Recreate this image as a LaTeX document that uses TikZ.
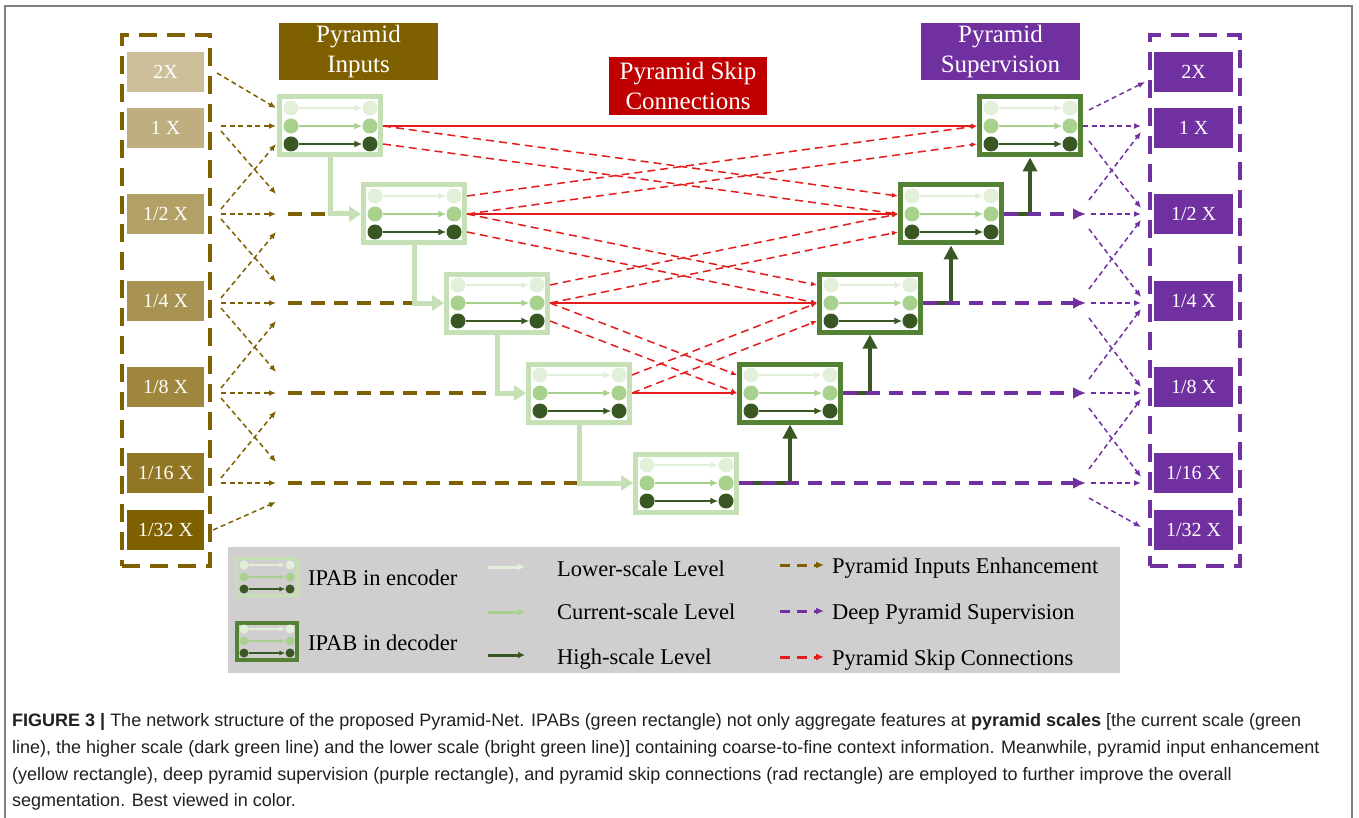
\documentclass[tikz,border=0pt]{standalone}
\usepackage{fontspec}
\setmainfont{Liberation Serif}
\newfontfamily\capfamily{Liberation Sans}
\usetikzlibrary{arrows.meta}
\definecolor{brn}{HTML}{7F6000}
\definecolor{pur}{HTML}{7030A0}
\definecolor{hred}{HTML}{C00000}
\definecolor{lred}{HTML}{E41C1C}
\definecolor{gA}{HTML}{E2F0D9}
\definecolor{gB}{HTML}{A9D18E}
\definecolor{gC}{HTML}{385723}
\definecolor{encfr}{HTML}{C5E0B4}
\definecolor{decfr}{HTML}{548235}
\definecolor{leggray}{HTML}{D0CECE}
\definecolor{framegray}{HTML}{7F7F7F}
\definecolor{captext}{HTML}{231F20}
\newcommand\lblfont{\fontsize{20}{24}\selectfont}
\newcommand\hdrfont{\fontsize{25}{30}\selectfont}
\newcommand\legfont{\fontsize{22.5}{27}\selectfont}
\newcommand\captxtfont{\capfamily\fontsize{18}{27}\selectfont}
\tikzset{
 lvlbox/.style={rectangle, inner sep=0pt, minimum width=77pt, minimum height=40pt, text=white, font=\lblfont},
 hdr/.style={rectangle, inner sep=0pt, text=white, font=\hdrfont, align=center, minimum width=159pt, minimum height=57pt},
 colframe/.style={draw=#1, line width=4pt, dash pattern=on 18pt off 10pt, minimum width=88pt, minimum height=531pt, inner sep=0pt},
 encframe/.style={draw=encfr, line width=5pt, fill=white, minimum width=101pt, minimum height=58pt, inner sep=0pt},
 decframe/.style={draw=decfr, line width=5pt, fill=white, minimum width=101pt, minimum height=58pt, inner sep=0pt},
 encmini/.style={draw=encfr, line width=3pt, minimum width=61pt, minimum height=37pt, inner sep=0pt},
 decmini/.style={draw=decfr, line width=4pt, minimum width=60pt, minimum height=37pt, inner sep=0pt},
 dot/.style={circle, inner sep=0pt, minimum size=15pt},
 minidot/.style={circle, inner sep=0pt, minimum size=9pt},
 rowar/.style={line width=1.8pt, -{Latex[length=8pt,width=7pt]}},
 miniar/.style={line width=1.6pt, -{Latex[length=6pt,width=5pt]}},
 thinbrn/.style={brn, line width=1.5pt, dash pattern=on 5pt off 3.5pt, -{Latex[length=7pt,width=6pt]}},
 thinpur/.style={pur, line width=1.5pt, dash pattern=on 5pt off 3.5pt, -{Latex[length=7pt,width=6pt]}},
 thickbrn/.style={brn, line width=4pt, dash pattern=on 14pt off 9pt},
 thickpur/.style={pur, line width=4pt, dash pattern=on 14pt off 9pt, -{Latex[length=13pt,width=12pt]}},
 redsolid/.style={lred, line width=1.2pt, -{Latex[length=6pt,width=5pt]}},
 reddash/.style={lred, line width=1.5pt, dash pattern=on 8pt off 5pt, -{Latex[length=6pt,width=5pt]}},
 encconn/.style={encfr, line width=5pt, -{Triangle[length=12pt,width=15pt]}},
 decconn/.style={gC, line width=4pt, -{Triangle[length=14pt,width=14pt]}},
 legln/.style={line width=3pt, -{Latex[length=7pt,width=7pt]}},
 legdash/.style={line width=3pt, dash pattern=on 10pt off 7pt, -{Latex[length=8pt,width=7pt]}},
 legtxt/.style={font=\legfont, anchor=base west, inner sep=0pt},
 captxt/.style={font=\captxtfont, text=captext, anchor=base west, inner sep=0pt},
}
% IPAB block: name, center, frame style
\newcommand\ipab[3]{%
 \node[#3] (#1) at (#2) {};
 \begin{scope}[shift={(#2)}]
  \foreach \r/\c in {1/gA,2/gB,3/gC}{
   \node[dot, fill=\c] (#1p\r) at (-39,{(\r-2)*18}) {};
   \node[dot, fill=\c] (#1q\r) at (40,{(\r-2)*18}) {};
   \draw[rowar,\c] (#1p\r) -- (#1q\r);
  }
 \end{scope}}
\newcommand\ipabmini[3]{%
 \node[#3] (#1) at (#2) {};
 \begin{scope}[shift={(#2)}]
  \foreach \r/\c in {1/gA,2/gB,3/gC}{
   \node[minidot, fill=\c] (#1p\r) at (-23,{(\r-2)*12}) {};
   \node[minidot, fill=\c] (#1q\r) at (23,{(\r-2)*12}) {};
   \draw[miniar,\c] (#1p\r) -- (#1q\r);
  }
 \end{scope}}
\begin{document}
\begin{tikzpicture}[x=1pt,y=-1pt]
\useasboundingbox (0,0) rectangle (1359,818);
\fill[white] (0,0) rectangle (1359,818);
% outer frame
\draw[framegray, line width=1.5pt] (5,818) -- (5,6) -- (1352,6) -- (1352,818);

% ---- left / right columns
\node[colframe=brn] (lframe) at (166,300.5) {};
\node[colframe=pur, minimum width=90pt] (rframe) at (1195,300.5) {};
\foreach \n/\y/\t/\c in {l0/72/2X/brn!40, l1/128/1 X/brn!50, l2/214/1\slash 2 X/brn!60, l3/301/1\slash 4 X/brn!68, l4/387/1\slash 8 X/brn!76, l5/473/1\slash 16 X/brn!86, l6/530/1\slash 32 X/brn}{
 \node[lvlbox, fill=\c] (\n) at (165.5,\y) {\t};
}
\foreach \n/\y/\t in {r0/72/2X, r1/128/1 X, r2/214/1\slash 2 X, r3/301/1\slash 4 X, r4/387/1\slash 8 X, r5/473/1\slash 16 X, r6/530/1\slash 32 X}{
 \node[lvlbox, fill=pur, minimum width=79pt] (\n) at (1193.5,\y) {\t};
}

% ---- headers
\node[hdr, fill=brn] (hIn) at (358.5,51.5) {Pyramid\\Inputs};
\node[hdr, fill=hred, minimum width=158pt, minimum height=58pt] (hSkip) at (688,86) {Pyramid Skip\\Connections};
\node[hdr, fill=pur] (hSup) at (1000.5,51.5) {Pyramid\\Supervision};

% ---- blocks
\ipab{E1}{330,126}{encframe}
\ipab{E2}{414,214}{encframe}
\ipab{E3}{497,303}{encframe}
\ipab{E4}{579,393}{encframe}
\ipab{E5}{686,483}{encframe}
\ipab{D1}{1030,126}{decframe}
\ipab{D2}{951,214}{decframe}
\ipab{D3}{870,303}{decframe}
\ipab{D4}{790,393}{decframe}

% ---- red skip connections
\foreach \i in {1,2,3,4}{
 \draw[redsolid] (E\i.east |- E\i q2) -- (D\i.west |- D\i p2);
}
\foreach \i/\j in {1/2,2/3,3/4}{
 \draw[reddash] (E\i.east |- E\i q2) -- (D\j.west |- D\j p1);
 \draw[reddash] (E\i.east |- E\i q3) -- (D\j.west |- D\j p2);
}
\foreach \i/\j in {2/1,3/2,4/3}{
 \draw[reddash] (E\i.east |- E\i q1) -- (D\j.west |- D\j p2);
 \draw[reddash] (E\i.east |- E\i q2) -- (D\j.west |- D\j p3);
}

% ---- left pyramid inputs
\coordinate (ls0) at (217,73);
\coordinate (le0) at (276,108);
\draw[thinbrn] (ls0) -- (le0);
\coordinate (ls6) at (213,530);
\coordinate (le6) at (276,502);
\draw[thinbrn] (ls6) -- (le6);
\foreach \k/\y in {1/126,2/214,3/303,4/393,5/483}{
 \coordinate (ls\k) at (221,\y);
 \coordinate (le\k) at (276,\y);
 \draw[thinbrn] (ls\k) -- (le\k);
}
\foreach \k/\ya/\yb in {2/209/144,3/298/232,4/388/321,5/478/411}{
 \coordinate (lua\k) at (221,\ya);
 \coordinate (lub\k) at (276,\yb);
 \draw[thinbrn] (lua\k) -- (lub\k);
}
\foreach \k/\ya/\yb in {1/131/194,2/219/282,3/308/372,4/398/462}{
 \coordinate (lda\k) at (221,\ya);
 \coordinate (ldb\k) at (276,\yb);
 \draw[thinbrn] (lda\k) -- (ldb\k);
}
\foreach \k/\y/\e in {2/214/E1,3/303/E2,4/393/E3,5/483/E4}{
 \coordinate (lj\k) at (288,\y);
 \draw[thickbrn] (lj\k) -- (\e |- lj\k);
}

% ---- encoder connectors
\draw[encconn] (E1.south) |- (E2.west);
\draw[encconn] (E2.south) |- (E3.west);
\draw[encconn] (E3.south) |- (E4.west);
\draw[encconn] (E4.south) |- (E5.west);

% ---- decoder connectors
\draw[decconn] (E5.east) -| (D4.south);
\draw[decconn] (D4.east) -| (D3.south);
\draw[decconn] (D3.east) -| (D2.south);
\draw[decconn] (D2.east) -| (D1.south);

% ---- deep supervision
\coordinate (rj2) at (1086,214);
\coordinate (rj3) at (1086,303);
\coordinate (rj4) at (1086,393);
\coordinate (rj5) at (1086,483);
\draw[thickpur] (D2.east) -- (rj2);
\draw[thickpur] (D3.east) -- (rj3);
\draw[thickpur] (D4.east) -- (rj4);
\draw[thickpur] (E5.east) -- (rj5);
\coordinate (re1) at (1141,126);
\draw[thinpur] (D1.east) -- (re1);
\foreach \k/\y in {2/214,3/303,4/393,5/483}{
 \coordinate (rs\k) at (1091,\y);
 \coordinate (re\k) at (1141,\y);
 \draw[thinpur] (rs\k) -- (re\k);
}
\foreach \k/\ya/\xb/\yb in {1/110/1145/82,2/200/1141/132,3/289/1141/220,4/379/1141/309,5/469/1141/399}{
 \coordinate (rua\k) at (1089,\ya);
 \coordinate (rub\k) at (\xb,\yb);
 \draw[thinpur] (rua\k) -- (rub\k);
}
\foreach \k/\ya/\yb in {1/141/208,2/229/297,3/318/387,4/408/477,5/498/527}{
 \coordinate (rda\k) at (1089,\ya);
 \coordinate (rdb\k) at (1141,\yb);
 \draw[thinpur] (rda\k) -- (rdb\k);
}

% ---- legend
\node[fill=leggray, minimum width=892pt, minimum height=126pt, inner sep=0pt] (legend) at (674,610) {};
\ipabmini{Lenc}{267,577}{encmini}
\ipabmini{Ldec}{267,641}{decmini}
\node[legtxt] (tEnc) at (308,585) {IPAB in encoder};
\node[legtxt] (tDec) at (308,650) {IPAB in decoder};
\coordinate (la1) at (488,567); \coordinate (lb1) at (525,567);
\coordinate (la2) at (488,612); \coordinate (lb2) at (525,612);
\coordinate (la3) at (488,655); \coordinate (lb3) at (525,655);
\draw[legln, gA] (la1) -- (lb1);
\draw[legln, gB] (la2) -- (lb2);
\draw[legln, gC] (la3) -- (lb3);
\node[legtxt] (tLow) at (557,576) {Lower-scale Level};
\node[legtxt] (tCur) at (557,619) {Current-scale Level};
\node[legtxt] (tHigh) at (557,664) {High-scale Level};
\coordinate (lc1) at (780,565); \coordinate (ld1) at (824,565);
\coordinate (lc2) at (780,611); \coordinate (ld2) at (824,611);
\coordinate (lc3) at (780,657); \coordinate (ld3) at (824,657);
\draw[legdash, brn] (lc1) -- (ld1);
\draw[legdash, pur] (lc2) -- (ld2);
\draw[legdash, lred] (lc3) -- (ld3);
\node[legtxt] (tPIE) at (832,573) {Pyramid Inputs Enhancement};
\node[legtxt] (tDPS) at (832,619) {Deep Pyramid Supervision};
\node[legtxt] (tPSC) at (832,665) {Pyramid Skip Connections};

% ---- caption
\node[captxt] (cap1) at (12,726) {\textbf{FIGURE 3 |} The network structure of the proposed Pyramid-Net. IPABs (green rectangle) not only aggregate features at \textbf{pyramid scales} [the current scale (green};
\node[captxt] (cap2) at (12,753) {line), the higher scale (dark green line) and the lower scale (bright green line)] containing coarse-to-fine context information. Meanwhile, pyramid input enhancement};
\node[captxt] (cap3) at (12,780) {(yellow rectangle), deep pyramid supervision (purple rectangle), and pyramid skip connections (rad rectangle) are employed to further improve the overall};
\node[captxt] (cap4) at (12,806) {segmentation. Best viewed in color.};
\end{tikzpicture}
\end{document}
